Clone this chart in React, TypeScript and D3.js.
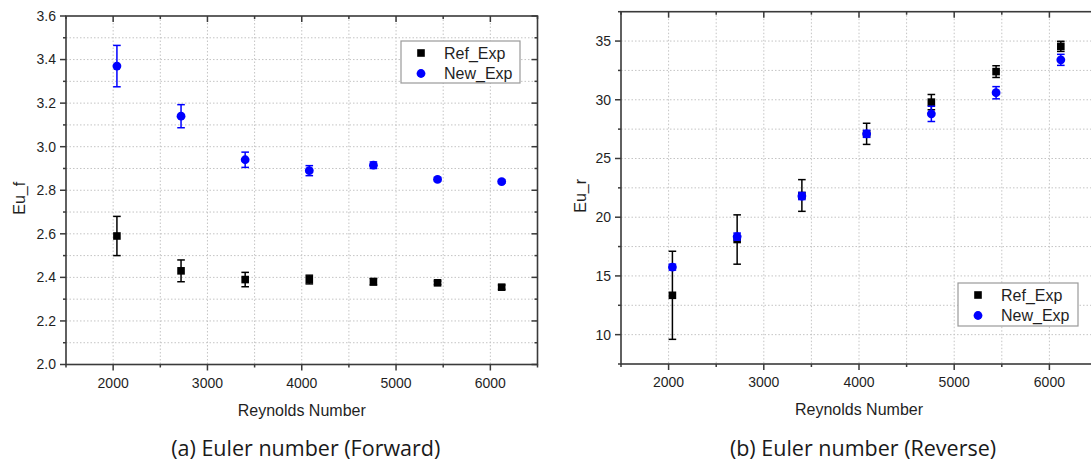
import React from 'react';
import * as d3 from 'd3';

// ---------- data ----------
const reynolds = [2040, 2720, 3400, 4080, 4760, 5440, 6120];

const refForward = [2.59, 2.43, 2.39, 2.39, 2.38, 2.375, 2.355];
const refForwardErr = [0.09, 0.05, 0.033, 0.02, 0.015, 0.008, 0.01];
const newForward = [3.37, 3.14, 2.94, 2.89, 2.915, 2.85, 2.84];
const newForwardErr = [0.095, 0.053, 0.035, 0.023, 0.015, 0.008, 0.008];

const refReverse = [13.35, 18.1, 21.85, 27.1, 29.8, 32.4, 34.55];
const refReverseErr = [3.75, 2.1, 1.35, 0.9, 0.65, 0.5, 0.43];
const newReverse = [15.75, 18.35, 21.8, 27.1, 28.8, 30.6, 33.4];
const newReverseErr = [0.25, 0.3, 0.3, 0.3, 0.65, 0.52, 0.47];

const xMajorTicks = [2000, 3000, 4000, 5000, 6000];
const xMinorTicks = [1500, 2500, 3500, 4500, 5500, 6500];
const forwardMajorTicks = [2.0, 2.2, 2.4, 2.6, 2.8, 3.0, 3.2, 3.4, 3.6];
const forwardMinorTicks = [2.1, 2.3, 2.5, 2.7, 2.9, 3.1, 3.3, 3.5];
const reverseMajorTicks = [10, 15, 20, 25, 30, 35];
const reverseMinorTicks = [7.5, 12.5, 17.5, 22.5, 27.5, 32.5, 37.5];

const seriesNames = ['Ref_Exp', 'New_Exp'];
const seriesColors = ['#000000', '#0000ff'];

const AXIS_FONT = '"Liberation Sans", Arial, sans-serif';
const CAPTION_FONT = '"Open Sans", Lato, sans-serif';

type Series = { values: number[]; errs: number[]; color: string; shape: 'square' | 'circle' };

type PanelProps = {
  x0: number; x1: number; y0: number; y1: number;
  xDomain: [number, number];
  yDomain: [number, number];
  yMajor: number[]; yMinor: number[];
  yFormat: (v: number) => string;
  yTitle: string; yTitleX: number;
  series: Series[];
  legend: { x: number; y: number; w: number; h: number };
  caption: string;
};

function Marker({ shape, cx, cy, color }: { shape: string; cx: number; cy: number; color: string }) {
  if (shape === 'square') {
    return <rect x={cx - 3.8} y={cy - 3.8} width={7.6} height={7.6} fill={color} />;
  }
  return <circle cx={cx} cy={cy} r={4.4} fill={color} />;
}

function Panel(p: PanelProps) {
  const x = d3.scaleLinear().domain(p.xDomain).range([p.x0, p.x1]);
  const y = d3.scaleLinear().domain(p.yDomain).range([p.y1, p.y0]);
  const axisColor = '#3a3a3a';
  const gridColor = '#c4c4c4';
  const textColor = '#1f1f1f';
  const xGrid = [...xMajorTicks, ...xMinorTicks].filter((v) => v > p.xDomain[0] && v < p.xDomain[1]);
  const yGrid = [...p.yMajor, ...p.yMinor].filter((v) => v > p.yDomain[0] && v < p.yDomain[1]);
  const cx = (p.x0 + p.x1) / 2;
  return (
    <g>
      {/* grid */}
      {xGrid.map((v) => (
        <line key={'gx' + v} x1={x(v)} x2={x(v)} y1={p.y0} y2={p.y1} stroke={gridColor} strokeWidth={1} strokeDasharray="1.5,2" />
      ))}
      {yGrid.map((v) => (
        <line key={'gy' + v} x1={p.x0} x2={p.x1} y1={y(v)} y2={y(v)} stroke={gridColor} strokeWidth={1} strokeDasharray="1.5,2" />
      ))}
      {/* data */}
      {p.series.map((s, si) => (
        <g key={'s' + si}>
          {reynolds.map((r, i) => {
            const px = x(r);
            const yt = y(s.values[i] + s.errs[i]);
            const yb = y(s.values[i] - s.errs[i]);
            return (
              <g key={i}>
                <line x1={px} x2={px} y1={yt} y2={yb} stroke={s.color} strokeWidth={1.5} />
                <line x1={px - 3.8} x2={px + 3.8} y1={yt} y2={yt} stroke={s.color} strokeWidth={1.5} />
                <line x1={px - 3.8} x2={px + 3.8} y1={yb} y2={yb} stroke={s.color} strokeWidth={1.5} />
                <Marker shape={s.shape} cx={px} cy={y(s.values[i])} color={s.color} />
              </g>
            );
          })}
        </g>
      ))}
      {/* frame */}
      <rect x={p.x0} y={p.y0} width={p.x1 - p.x0} height={p.y1 - p.y0} fill="none" stroke={axisColor} strokeWidth={1.6} />
      {/* x ticks */}
      {xMajorTicks.map((v) => (
        <g key={'xt' + v}>
          <line x1={x(v)} x2={x(v)} y1={p.y1} y2={p.y1 + 6} stroke={axisColor} strokeWidth={1.5} />
          <line x1={x(v)} x2={x(v)} y1={p.y0} y2={p.y0 + 6} stroke={axisColor} strokeWidth={1.5} />
          <text x={x(v)} y={p.y1 + 23} textAnchor="middle" fontFamily={AXIS_FONT} fontSize={14} fill={textColor}>
            {v}
          </text>
        </g>
      ))}
      {xMinorTicks.map((v) => (
        <g key={'xm' + v}>
          <line x1={x(v)} x2={x(v)} y1={p.y1} y2={p.y1 + 3} stroke={axisColor} strokeWidth={1.5} />
          <line x1={x(v)} x2={x(v)} y1={p.y0} y2={p.y0 + 3} stroke={axisColor} strokeWidth={1.5} />
        </g>
      ))}
      {/* y ticks */}
      {p.yMajor.map((v) => (
        <g key={'yt' + v}>
          <line x1={p.x0 - 6} x2={p.x0} y1={y(v)} y2={y(v)} stroke={axisColor} strokeWidth={1.5} />
          <line x1={p.x1 - 6} x2={p.x1} y1={y(v)} y2={y(v)} stroke={axisColor} strokeWidth={1.5} />
          <text x={p.x0 - 10} y={y(v)} dy="0.35em" textAnchor="end" fontFamily={AXIS_FONT} fontSize={14} fill={textColor}>
            {p.yFormat(v)}
          </text>
        </g>
      ))}
      {p.yMinor.map((v) => (
        <g key={'ym' + v}>
          <line x1={p.x0 - 3} x2={p.x0} y1={y(v)} y2={y(v)} stroke={axisColor} strokeWidth={1.5} />
          <line x1={p.x1 - 3} x2={p.x1} y1={y(v)} y2={y(v)} stroke={axisColor} strokeWidth={1.5} />
        </g>
      ))}
      {/* titles */}
      <text x={cx} y={p.y1 + 51} textAnchor="middle" fontFamily={AXIS_FONT} fontSize={16} fill={textColor}>
        Reynolds Number
      </text>
      <text
        transform={`translate(${p.yTitleX},${(p.y0 + p.y1) / 2 + 8}) rotate(-90)`}
        textAnchor="middle"
        dy="0.35em"
        fontFamily={AXIS_FONT}
        fontSize={16}
        fill={textColor}
      >
        {p.yTitle}
      </text>
      {/* legend */}
      <g>
        <rect x={p.legend.x} y={p.legend.y} width={p.legend.w} height={p.legend.h} fill="#ffffff" stroke="#9a9a9a" strokeWidth={1.2} />
        {p.series.map((s, i) => {
          const ry = p.legend.y + 12 + i * 20.5;
          return (
            <g key={'lg' + i}>
              <Marker shape={s.shape} cx={p.legend.x + 20} cy={ry} color={s.color} />
              <text x={p.legend.x + 43} y={ry} dy="0.35em" fontFamily={AXIS_FONT} fontSize={16} fill={textColor}>
                {seriesNames[i]}
              </text>
            </g>
          );
        })}
      </g>
      {/* caption */}
      <text x={cx + 4} y={456} textAnchor="middle" fontFamily={CAPTION_FONT} fontSize={21.5} fill="#1a1a1a">
        {p.caption}
      </text>
    </g>
  );
}

export default function App() {
  const fmt1 = d3.format('.1f');
  const fmt0 = d3.format('d');
  return (
    <svg width={1091} height={463} style={{ position: 'absolute', left: 0, top: 0, background: '#ffffff' }}>
      <rect x={0} y={0} width={1091} height={463} fill="#ffffff" />
      <Panel
        x0={66}
        x1={537.5}
        y0={16}
        y1={364.5}
        xDomain={[1500, 6500]}
        yDomain={[2.0, 3.6]}
        yMajor={forwardMajorTicks}
        yMinor={forwardMinorTicks}
        yFormat={fmt1}
        yTitle="Eu_f"
        yTitleX={19}
        series={[
          { values: refForward, errs: refForwardErr, color: seriesColors[0], shape: 'square' },
          { values: newForward, errs: newForwardErr, color: seriesColors[1], shape: 'circle' },
        ]}
        legend={{ x: 401, y: 41, w: 119, h: 42 }}
        caption="(a) Euler number (Forward)"
      />
      <Panel
        x0={621}
        x1={1097}
        y0={11.7}
        y1={364}
        xDomain={[1500, 6500]}
        yDomain={[7.5, 37.5]}
        yMajor={reverseMajorTicks}
        yMinor={reverseMinorTicks}
        yFormat={fmt0}
        yTitle="Eu_r"
        yTitleX={580}
        series={[
          { values: refReverse, errs: refReverseErr, color: seriesColors[0], shape: 'square' },
          { values: newReverse, errs: newReverseErr, color: seriesColors[1], shape: 'circle' },
        ]}
        legend={{ x: 958, y: 283, w: 120, h: 43 }}
        caption="(b) Euler number (Reverse)"
      />
    </svg>
  );
}
